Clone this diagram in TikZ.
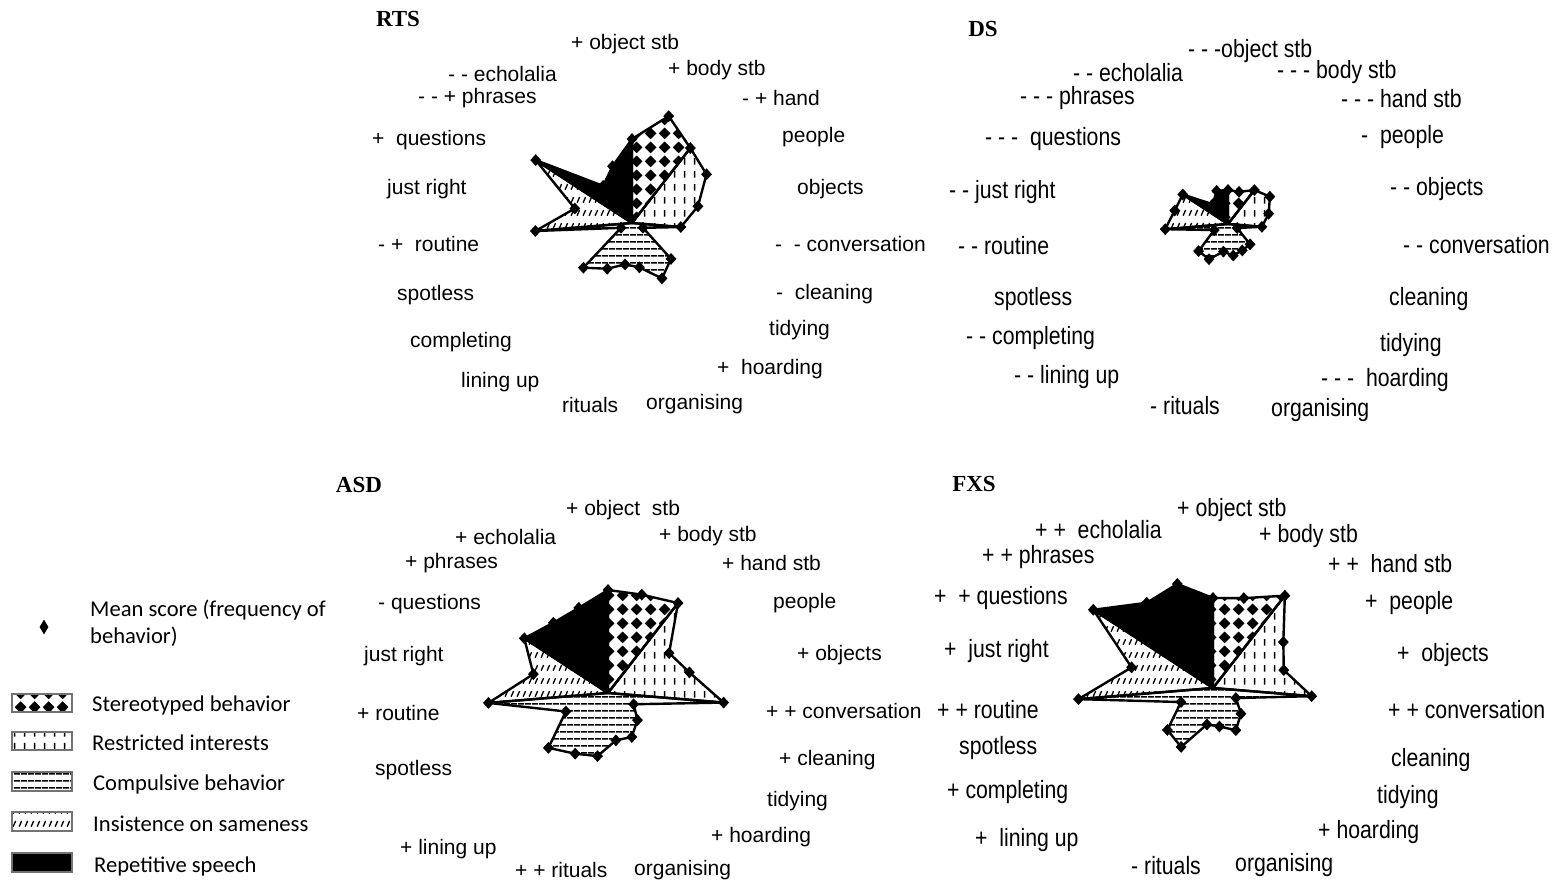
\documentclass[tikz,border=0pt]{standalone}
\usepackage{fontspec}
\setmainfont{Liberation Sans}
\newfontfamily\labf{Liberation Sans}
\newfontfamily\narf[FakeStretch=0.85]{Liberation Sans}
\newfontfamily\legf{Carlito}
\newfontfamily\titf{Liberation Serif}
\usetikzlibrary{calc,patterns,shapes.geometric}

\pgfdeclarepatternformonly{stereopat}{\pgfqpoint{0pt}{0pt}}{\pgfqpoint{14pt}{14pt}}{\pgfqpoint{14pt}{14pt}}{%
  \pgfpathmoveto{\pgfqpoint{7pt}{0.8pt}}%
  \pgfpathlineto{\pgfqpoint{13.2pt}{7pt}}%
  \pgfpathlineto{\pgfqpoint{7pt}{13.2pt}}%
  \pgfpathlineto{\pgfqpoint{0.8pt}{7pt}}%
  \pgfpathclose\pgfusepath{fill}}
\pgfdeclarepatternformonly{restrpat}{\pgfqpoint{0pt}{0pt}}{\pgfqpoint{10pt}{13pt}}{\pgfqpoint{10pt}{13pt}}{%
  \pgfsetlinewidth{1.7pt}\pgfpathmoveto{\pgfqpoint{5pt}{2.5pt}}\pgfpathlineto{\pgfqpoint{5pt}{9.5pt}}\pgfusepath{stroke}}
\pgfdeclarepatternformonly{comppat}{\pgfqpoint{0pt}{0pt}}{\pgfqpoint{7pt}{7pt}}{\pgfqpoint{7pt}{7pt}}{%
  \pgfsetlinewidth{1.8pt}\pgfpathmoveto{\pgfqpoint{0pt}{3.5pt}}\pgfpathlineto{\pgfqpoint{7pt}{3.5pt}}\pgfusepath{stroke}}
\pgfdeclarepatternformonly{inspat}{\pgfqpoint{0pt}{0pt}}{\pgfqpoint{6pt}{13pt}}{\pgfqpoint{6pt}{13pt}}{%
  \pgfsetlinewidth{1.5pt}\pgfpathmoveto{\pgfqpoint{1.3pt}{3.5pt}}\pgfpathlineto{\pgfqpoint{4.2pt}{9.5pt}}\pgfusepath{stroke}}

\tikzset{
 outl/.style={draw=black, line width=2.4pt, line join=round},
 mk/.style={diamond, fill=black, inner sep=0pt, minimum width=11pt, minimum height=12pt},
 labA/.style={font=\labf\fontsize{21}{25}\selectfont, inner sep=0pt, anchor=west, yshift=-2pt},
 labB/.style={font=\narf\fontsize{25}{29}\selectfont, inner sep=0pt, anchor=west, yshift=-2.5pt},
 ttl/.style={font=\titf\bfseries\fontsize{23}{27}\selectfont, inner sep=0pt},
 leg/.style={font=\legf\fontsize{22.6}{27}\selectfont, inner sep=0pt, anchor=west, yshift=-2pt},
 swatch/.style={draw=black!55, line width=1.6pt},
}

\newcommand{\rchart}[4]{%
  \coordinate (#1C) at (#2,-#3);
  \foreach \rad [count=\i from 0] in {#4} {\coordinate (#1P\i) at ($(#1C)+({90-\i*360/19}:\rad)$);}
  \draw[outl, pattern=stereopat] (#1C) -- (#1P0) -- (#1P1) -- (#1P2) -- cycle;
  \draw[outl, pattern=restrpat] (#1C) -- (#1P2) -- (#1P3) -- (#1P4) -- (#1P5) -- cycle;
  \draw[outl, pattern=comppat] (#1C) -- (#1P5) -- (#1P6) -- (#1P7) -- (#1P8) -- (#1P9) -- (#1P10) -- (#1P11) -- (#1P12) -- (#1P13) -- (#1P14) -- cycle;
  \draw[outl, pattern=inspat] (#1C) -- (#1P14) -- (#1P15) -- (#1P16) -- cycle;
  \draw[outl, fill=black] (#1C) -- (#1P16) -- (#1P17) -- (#1P18) -- (#1P0) -- cycle;
  \foreach \i in {0,...,18} {\node[mk] (#1M\i) at (#1P\i) {};}
}

\begin{document}
\begin{tikzpicture}[x=1pt,y=1pt]
\useasboundingbox (0,0) rectangle (1553,-882);

% charts
\rchart{rts}{632}{223}{84,113,95,89,68,49,12,53,63,45,42,52,66,12,97,59,115,47,60}
\rchart{ds}{1228}{224}{34,34,43,50,42,34,10,30,30,32,28,40,40,15,63,55,54,25,35}
\rchart{asd}{608}{693}{103,104,114,73,84,116,28,40,50,48,64,69,81,46,120,77,100,89,90}
\rchart{fxs}{1213}{688}{90,95,117,84,73,99,25,38,48,39,37,67,62,35,135,84,143,108,110}

% titles
\node[ttl] (t1) at (398,-19) {RTS};
\node[ttl] (t2) at (983,-29) {DS};
\node[ttl] (t3) at (359,-485) {ASD};
\node[ttl] (t4) at (974,-484) {FXS};

% RTS labels
\node[labA] (a1) at (571,-42) {+ object stb};
\node[labA] (a2) at (448,-72) {- - echolalia};
\node[labA] (a3) at (668,-68) {+ body stb};
\node[labA] (a4) at (418,-96) {- - + phrases};
\node[labA] (a5) at (742,-96) {- + hand};
\node[labA] (a6) at (372,-138) {+~ questions};
\node[labA] (a7) at (782,-135) {people};
\node[labA] (a8) at (387,-187) {just right};
\node[labA] (a9) at (797,-187) {objects};
\node[labA] (a10) at (378,-242) {- +~ routine};
\node[labA] (a11) at (775,-242) {-~ - conversation};
\node[labA] (a12) at (397,-293) {spotless};
\node[labA] (a13) at (776,-292) {-~ cleaning};
\node[labA] (a14) at (410,-340) {completing};
\node[labA] (a15) at (769,-328) {tidying};
\node[labA] (a16) at (461,-380) {lining up};
\node[labA] (a17) at (717,-367) {+~ hoarding};
\node[labA] (a18) at (562,-403) {rituals};
\node[labA] (a19) at (646,-402) {organising};

% DS labels
\node[labB] (b1) at (1188,-49) {- - -object stb};
\node[labB] (b2) at (1073,-70) {- - echolalia};
\node[labB] (b3) at (1277,-70) {- - - body stb};
\node[labB] (b4) at (1020,-96) {- - - phrases};
\node[labB] (b5) at (1341,-96) {- - - hand stb};
\node[labB] (b6) at (985,-137) {- - -~ questions};
\node[labB] (b7) at (1361,-135) {-~ people};
\node[labB] (b8) at (949,-190) {- - just right};
\node[labB] (b9) at (1390,-187) {- - objects};
\node[labB] (b10) at (958,-243) {- - routine};
\node[labB] (b11) at (1403,-242) {- - conversation};
\node[labB] (b12) at (994,-297) {spotless};
\node[labB] (b13) at (1389,-297) {cleaning};
\node[labB] (b14) at (966,-336) {- - completing};
\node[labB] (b15) at (1380,-343) {tidying};
\node[labB] (b16) at (1014,-375) {- - lining up};
\node[labB] (b17) at (1321,-378) {- - -~ hoarding};
\node[labB] (b18) at (1150,-403) {- rituals};
\node[labB] (b19) at (1271,-408) {organising};

% ASD labels
\node[labA] (c1) at (566,-508) {+ object~ stb};
\node[labA] (c2) at (455,-535) {+ echolalia};
\node[labA] (c3) at (659,-534) {+ body stb};
\node[labA] (c4) at (405,-561) {+ phrases};
\node[labA] (c5) at (722,-561) {+ hand stb};
\node[labA] (c6) at (378,-602) {- questions};
\node[labA] (c7) at (773,-601) {people};
\node[labA] (c8) at (364,-654) {just right};
\node[labA] (c9) at (797,-653) {+ objects};
\node[labA] (c10) at (357,-711) {+ routine};
\node[labA] (c11) at (766,-709) {+ + conversation};
\node[labA] (c12) at (375,-768) {spotless};
\node[labA] (c13) at (779,-758) {+ cleaning};
\node[labA] (c14) at (767,-799) {tidying};
\node[labA] (c15) at (400,-847) {+ lining up};
\node[labA] (c16) at (711,-835) {+ hoarding};
\node[labA, yshift=1pt] (c17) at (515,-869) {+ + rituals};
\node[labA, yshift=1pt] (c18) at (634,-869) {organising};

% FXS labels
\node[labB] (d1) at (1177,-508) {+ object stb};
\node[labB] (d2) at (1035,-527) {+ +~ echolalia};
\node[labB] (d3) at (1259,-534) {+ body stb};
\node[labB] (d4) at (982,-555) {+ + phrases};
\node[labB] (d5) at (1328,-561) {+ +~ hand stb};
\node[labB] (d6) at (934,-596) {+~ + questions};
\node[labB] (d7) at (1365,-601) {+~ people};
\node[labB] (d8) at (944,-649) {+~ just right};
\node[labB] (d9) at (1397,-653) {+~ objects};
\node[labB] (d10) at (937,-707) {+ + routine};
\node[labB] (d11) at (1388,-707) {+ + conversation};
\node[labB] (d12) at (959,-746) {spotless};
\node[labB] (d13) at (1391,-758) {cleaning};
\node[labB] (d14) at (947,-790) {+ completing};
\node[labB] (d15) at (1377,-795) {tidying};
\node[labB] (d16) at (975,-838) {+~ lining up};
\node[labB] (d17) at (1318,-830) {+ hoarding};
\node[labB, yshift=3pt] (d18) at (1131,-866) {- rituals};
\node[labB, yshift=3pt] (d19) at (1235,-866) {organising};

% legend
\node[diamond, fill=black, inner sep=0pt, minimum width=9pt, minimum height=15pt] (lgm) at (44,-627) {};
\node[leg, align=left, anchor=north west, yshift=0pt] (lgt) at (90,-598) {Mean score (frequency of\\behavior)};
\draw[swatch, pattern=stereopat] (12,-694) rectangle (72,-712);
\draw[swatch, pattern=restrpat] (12,-732) rectangle (72,-750);
\draw[swatch, pattern=comppat] (12,-772) rectangle (72,-791);
\draw[swatch, pattern=inspat] (12,-812) rectangle (72,-831);
\draw[swatch, fill=black] (12,-853) rectangle (72,-872);
\node[leg] (l1) at (92,-703) {Stereotyped behavior};
\node[leg] (l2) at (92,-741) {Restricted interests};
\node[leg] (l3) at (93,-782) {Compulsive behavior};
\node[leg] (l4) at (93,-822) {Insistence on sameness};
\node[leg] (l5) at (94,-864) {Repetitive speech};
\end{tikzpicture}
\end{document}
